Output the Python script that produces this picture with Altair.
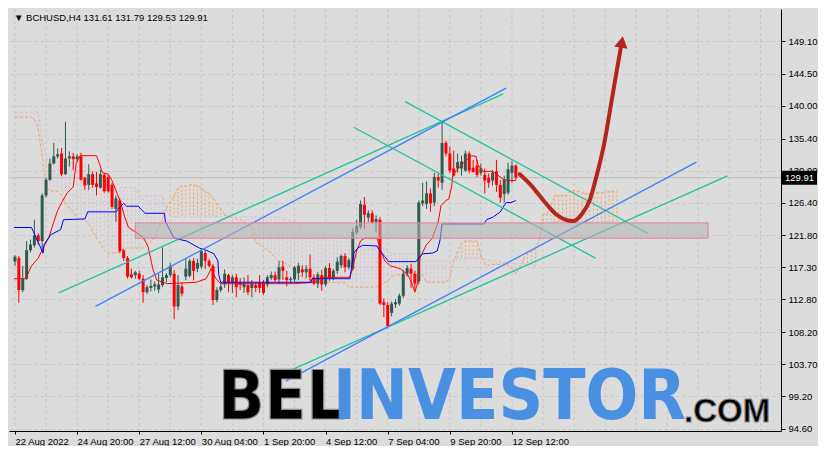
import altair as alt
import pandas as pd

SYMBOL = "BCHUSD,H4"

OPEN = [118.1, 118.6, 114.1, 115.7, 119.7, 120.4, 121.8, 121.0, 127.4, 129.6,
        131.9, 132.9, 133.3, 130.4, 132.6, 132.9, 132.5, 132.9, 129.9, 128.9,
        130.4, 129.1, 128.5, 130.3, 130.0, 128.9, 125.5, 126.7, 119.7, 118.6,
        116.3, 116.2, 116.4, 115.7, 113.8, 114.4, 114.6, 114.2, 114.8, 115.8,
        116.2, 116.4, 111.8, 114.6, 116.0, 116.1, 118.2, 117.1, 117.4, 119.3,
        118.2, 117.5, 112.7, 114.1, 114.9, 116.2, 115.1, 115.9, 115.2, 114.5,
        114.8, 114.4, 114.8, 115.1, 115.1, 114.9, 115.8, 116.2, 115.6, 117.4,
        115.9, 115.5, 115.6, 116.5, 117.0, 116.6, 117.1, 115.9, 115.0, 116.2,
        114.9, 117.2, 115.8, 116.8, 117.6, 118.9, 117.3, 117.1, 122.2, 123.0,
        126.1, 124.3, 124.9, 123.7, 124.0, 112.4, 112.0, 110.9, 112.1, 112.2,
        113.3, 116.4, 117.1, 116.4, 115.3, 126.3, 126.2, 127.7, 126.4, 130.0,
        129.2, 134.8, 133.3, 131.2, 131.2, 131.2, 130.9, 133.3, 131.3, 131.6,
        130.6, 130.3, 129.9, 129.5, 130.8, 128.9, 127.6, 127.8, 130.6, 131.61]
HIGH = [119.0, 118.9, 117.5, 121.0, 121.2, 124.0, 122.1, 127.7, 129.9, 132.6,
        134.8, 134.0, 134.1, 137.8, 133.6, 133.4, 133.2, 133.4, 130.0, 131.8,
        130.8, 130.7, 131.0, 130.6, 130.3, 129.2, 127.4, 127.0, 119.9, 118.9,
        117.1, 116.8, 116.8, 116.2, 114.8, 115.6, 115.3, 116.4, 120.1, 116.5,
        117.9, 116.9, 116.2, 115.2, 118.5, 118.5, 118.6, 118.5, 119.9, 119.7,
        118.5, 117.8, 114.5, 115.2, 117.0, 116.4, 116.2, 116.4, 115.8, 115.9,
        116.2, 115.5, 115.2, 116.2, 115.5, 116.2, 116.7, 116.7, 118.2, 118.2,
        116.8, 116.0, 117.5, 117.9, 117.6, 117.6, 119.1, 116.3, 116.6, 116.9,
        117.5, 117.9, 117.1, 118.7, 119.1, 119.3, 118.6, 122.8, 124.0, 126.7,
        127.2, 125.3, 125.3, 124.6, 124.4, 112.9, 112.4, 112.5, 112.8, 113.6,
        116.9, 117.6, 117.8, 116.8, 126.7, 129.2, 129.4, 128.4, 130.6, 130.5,
        137.7, 135.1, 134.3, 133.7, 133.3, 133.0, 133.7, 133.6, 132.4, 132.4,
        131.9, 131.2, 130.5, 131.0, 132.4, 129.6, 130.2, 132.0, 132.2, 131.79]
LOW = [117.5, 112.3, 113.8, 115.5, 119.4, 120.1, 120.5, 119.6, 127.1, 129.5,
       131.8, 132.6, 130.1, 130.3, 131.5, 131.0, 132.2, 129.5, 128.2, 128.2,
       128.5, 127.4, 128.4, 127.8, 127.8, 125.5, 123.7, 119.3, 118.2, 115.7,
       115.7, 115.7, 115.5, 112.3, 113.5, 113.9, 114.0, 113.7, 114.5, 115.2,
       115.9, 110.0, 111.3, 113.2, 115.5, 115.9, 115.5, 116.6, 117.1, 117.1,
       117.3, 112.0, 112.4, 113.8, 114.4, 113.8, 113.7, 113.1, 114.1, 113.7,
       113.4, 113.1, 113.8, 113.7, 113.4, 114.5, 115.5, 115.3, 115.0, 115.5,
       114.6, 115.2, 115.3, 115.5, 116.0, 115.8, 115.2, 114.8, 114.4, 114.0,
       114.6, 115.4, 115.5, 116.4, 117.2, 116.6, 117.0, 116.8, 121.9, 122.7,
       122.7, 123.7, 123.4, 122.2, 112.0, 110.3, 108.7, 110.4, 111.6, 111.9,
       113.0, 116.0, 114.4, 114.0, 114.9, 125.9, 125.5, 125.1, 125.9, 128.5,
       128.2, 132.9, 130.6, 130.1, 130.6, 130.2, 130.7, 130.5, 130.6, 130.0,
       130.2, 127.7, 128.5, 128.8, 127.9, 126.4, 126.4, 127.5, 129.2, 129.53]
CLOSE = [118.8, 114.1, 115.7, 119.7, 120.5, 121.8, 121.0, 127.4, 129.6, 131.9,
         132.9, 133.2, 130.4, 132.6, 132.9, 132.5, 132.9, 129.6, 128.8, 130.4,
         128.9, 128.6, 130.4, 128.0, 128.0, 125.8, 127.0, 119.6, 118.6, 116.0,
         115.9, 116.6, 115.7, 113.8, 114.5, 114.7, 114.9, 114.9, 115.9, 116.2,
         117.5, 111.8, 114.8, 113.6, 117.1, 118.2, 116.8, 117.9, 119.6, 118.2,
         117.5, 112.7, 114.1, 114.6, 116.4, 115.1, 115.9, 114.5, 114.8, 115.1,
         113.8, 115.1, 114.4, 114.4, 113.7, 115.9, 116.2, 115.5, 117.3, 116.8,
         115.5, 115.7, 117.3, 117.5, 116.6, 117.1, 115.9, 115.0, 116.3, 114.9,
         117.2, 115.8, 116.8, 118.1, 118.9, 117.3, 118.3, 122.3, 123.1, 126.2,
         124.7, 124.9, 123.6, 124.1, 112.2, 112.0, 109.0, 112.2, 112.4, 113.3,
         116.4, 117.2, 116.4, 115.0, 126.4, 126.7, 127.7, 126.3, 130.0, 129.5,
         134.8, 133.3, 130.9, 130.2, 132.1, 132.2, 133.3, 130.9, 130.7, 130.3,
         131.2, 129.5, 129.2, 130.6, 128.9, 127.1, 129.6, 131.1, 131.6, 129.91]

# Ichimoku: Tenkan-sen and Kijun-sen (bar index, price)
TENKAN_BAR = [-0.25, 2.75, 4.25, 6, 7.5, 8.75, 10, 11, 12.25, 13.5, 15, 15.75, 16.75, 21,
              21.75, 22.5, 24, 25, 26, 27.25, 28.25, 29.25, 31.25, 33, 34.25, 35.5, 36.5,
              39.25, 46.75, 49.25, 50.5, 51.75, 53, 71.75, 77.5, 78.75, 86.25, 87, 88, 89,
              90, 93.25, 94, 95.25, 96.75, 99.25, 101.25, 102.25, 103, 103.75, 104.25, 106,
              107.5, 109, 109.75, 111, 111.75, 112.5, 112.75, 113.75, 116, 117.5, 118.75,
              119.25, 120.5, 123, 124.25, 126, 128, 129]
TENKAN_VAL = [115.7, 115.7, 117.5, 118.6, 120.3, 121.5, 123.7, 125.3, 126.6, 127.8, 128.6,
              131.9, 133.0, 133.0, 131.9, 130.6, 130.4, 129.5, 128.1, 126.4, 124.4, 122.9,
              122.2, 121.5, 120.3, 117.1, 115.5, 115.0, 115.2, 115.7, 117.1, 115.7, 115.0,
              115.0, 115.2, 115.9, 115.9, 117.3, 119.6, 121.0, 121.4, 121.4, 120.0, 118.2,
              117.5, 117.1, 116.2, 115.0, 113.8, 115.2, 118.6, 120.5, 121.4, 123.7, 126.0,
              126.7, 126.9, 128.8, 130.2, 131.0, 132.2, 133.0, 132.9, 131.7, 130.8, 130.8,
              130.3, 129.6, 129.5, 129.5]
KIJUN_BAR = [-0.25, 4.25, 7.25, 7.5, 9.25, 11.75, 12.5, 18, 18.75, 26, 27.25, 28, 28.75,
             31.75, 32.75, 33.5, 38.5, 38.75, 39.75, 41, 42.5, 44.25, 47.5, 49.25, 51.25,
             52.25, 52.5, 53, 76.25, 76.5, 86.25, 87.25, 88.25, 89.5, 93.25, 94, 95.25,
             96.25, 103.25, 104, 105, 107.5, 108.75, 109.5, 110, 120.75, 121.5, 123.25,
             125, 125.75, 126.5, 127.75, 129]
KIJUN_VAL = [122.9, 122.9, 119.3, 120.5, 121.9, 122.6, 124.0, 124.1, 125.1, 125.1, 125.9,
             126.3, 125.9, 125.9, 125.3, 124.9, 124.9, 123.7, 122.7, 121.4, 121.2, 121.0,
             120.0, 119.7, 119.2, 118.2, 116.2, 115.2, 115.2, 115.7, 115.7, 119.3, 120.0,
             120.4, 120.3, 119.6, 118.8, 118.1, 118.1, 118.6, 119.2, 119.3, 119.6, 121.2,
             123.4, 123.4, 124.0, 124.4, 125.1, 125.8, 126.4, 126.4, 126.7]

# Senkou span A / B, one value per bar (bars 0..155)
SPAN_A = [138.4, 138.4, 138.4, 138.4, 138.4, 138.1, 136.7, 132.9, 128.5, 128.1,
          128.0, 128.0, 127.4, 126.2, 125.6, 125.1, 124.1, 124.1, 124.0, 123.4,
          122.3, 121.4, 120.7, 119.7, 119.2, 119.3, 119.3, 119.5, 120.0, 120.0,
          120.0, 120.0, 120.0, 120.0, 120.4, 120.8, 121.6, 122.9, 124.1, 125.6,
          126.5, 127.4, 128.5, 128.8, 128.8, 128.9, 128.9, 128.8, 128.4, 128.0,
          127.7, 127.1, 126.3, 125.5, 124.8, 124.4, 124.3, 124.1, 124.0, 123.7,
          123.3, 122.9, 120.8, 120.5, 120.1, 119.7, 119.3, 118.6, 118.2, 118.1,
          117.8, 117.4, 116.7, 116.2, 115.9, 115.6, 115.6, 115.5, 115.3, 115.2,
          115.2, 115.2, 115.2, 115.1, 115.1, 115.1, 114.5, 114.5, 114.5, 114.5,
          114.5, 114.5, 114.5, 114.5, 114.8, 115.1, 115.3, 116.0, 116.2, 116.2,
          116.2, 116.2, 116.2, 116.2, 116.2, 116.2, 115.2, 115.2, 115.2, 115.2,
          115.2, 115.2, 115.7, 118.2, 119.5, 120.7, 121.0, 121.0, 121.0, 121.0,
          119.0, 117.8, 117.5, 117.7, 117.7, 117.7, 117.8, 117.5, 117.3, 116.4,
          117.3, 118.5, 119.3, 119.6, 119.9, 121.0, 124.7, 124.8, 125.9, 127.4,
          127.4, 127.4, 127.4, 128.1, 128.1, 128.0, 127.8, 127.7, 127.6, 127.8,
          127.8, 127.8, 127.8, 128.0, 128.0, 128.0]
SPAN_B = [139.1, 139.1, 139.1, 139.1, 139.1, 139.1, 139.1, 135.1, 132.6, 132.2,
          132.2, 132.1, 132.1, 132.1, 132.1, 132.1, 132.1, 131.9, 131.9, 128.5,
          128.5, 128.5, 128.5, 128.5, 128.5, 128.5, 128.5, 128.5, 128.5, 128.5,
          128.5, 128.5, 127.4, 127.4, 127.4, 127.4, 127.4, 127.4, 127.4, 125.4,
          124.4, 124.4, 124.4, 124.4, 124.4, 124.4, 124.4, 124.4, 124.4, 124.4,
          124.4, 124.4, 124.4, 124.4, 124.4, 124.4, 124.4, 124.4, 124.4, 124.4,
          124.4, 124.4, 124.4, 124.4, 124.4, 124.4, 124.4, 124.4, 124.4, 124.0,
          124.0, 123.8, 123.8, 123.7, 122.3, 122.1, 122.1, 121.9, 121.9, 121.9,
          121.9, 121.8, 121.8, 121.8, 121.6, 121.6, 120.8, 120.5, 120.3, 120.1,
          120.0, 120.0, 120.0, 120.0, 120.0, 120.0, 119.9, 119.2, 119.2, 119.2,
          119.2, 119.2, 119.2, 119.2, 119.2, 118.2, 118.2, 118.2, 118.2, 118.2,
          118.2, 118.2, 118.2, 118.4, 118.4, 118.5, 118.5, 118.6, 118.6, 118.5,
          118.5, 118.4, 118.4, 118.2, 118.2, 118.1, 118.1, 117.9, 117.8, 117.8,
          117.8, 117.7, 117.7, 117.7, 117.5, 121.0, 123.7, 123.7, 123.7, 123.7,
          123.7, 123.7, 123.7, 123.7, 123.7, 123.7, 123.7, 123.7, 123.7, 123.7,
          123.7, 123.7, 123.7, 123.7, 123.7, 123.7]

# Drawn objects (bar index, price)
GREEN_BAR0 = [11.25, 100.5, 87.25, 70.5]
GREEN_P0 = [113.7, 140.6, 137.0, 102.7]
GREEN_BAR1 = [125.75, 163.0, 149.5, 183.5]
GREEN_P1 = [141.7, 122.05, 118.6, 130.15]
BLUE_BAR0 = [20.75, 69.75]
BLUE_P0 = [111.8, 101.3]
BLUE_BAR1 = [126.5, 175.5]
BLUE_P1 = [142.5, 132.1]
ZONE_BAR = [31.0, 178.5]
ZONE_PRICE = [121.4, 123.55]
CURVE_BAR = [130, 133, 136.25, 139.25, 141.75, 143.75, 146, 148, 150, 151.75, 153.5, 155, 156]
CURVE_PRICE = [130.4, 128.8, 126.6, 124.8, 124.0, 123.8, 124.8, 126.7, 130.6, 134.7, 140.2, 145.0, 148.1]
ARROW_BAR = [156.3]
ARROW_PRICE = [149.0]

GRID_BARS = [0, 8, 16, 24, 32, 40, 48, 56, 64, 72, 80, 88, 96, 104, 112, 120, 128,
             136, 144, 152, 160, 168, 176, 184, 192]
XTICK_BARS = [0, 16, 32, 48, 64, 80, 96, 112, 128]
XTICK_LABELS = ["22 Aug 2022", "24 Aug 20:00", "27 Aug 12:00", "30 Aug 04:00", "1 Sep 20:00",
                "4 Sep 12:00", "7 Sep 04:00", "9 Sep 20:00", "12 Sep 12:00"]
YTICKS = [94.6, 99.2, 103.7, 108.2, 112.8, 117.3, 121.8, 126.4, 130.9, 135.4, 140.0, 144.5, 149.1]

WATERMARK = ["BEL", "INVESTOR", ".COM"]

# ---------------------------------------------------------------- styling
FONT = "Liberation Sans"
NARROW = "Liberation Sans Narrow, DejaVu Sans Condensed, sans-serif"
BG = "#dcdcdc"
BULL = "#2f5a4e"
BEAR = "#ff0000"
ORANGE = "#f4a460"
THISTLE = "#d8bfd8"
W, H = 772, 422

xs = alt.Scale(domain=[-0.25, 196], nice=False, zero=False)
ys = alt.Scale(domain=[94.28, 153.63], nice=False, zero=False)
label_expr = "[" + ",".join("'%s'" % s for s in XTICK_LABELS) + "][round(datum.value / 16)]"
xaxis = alt.Axis(values=XTICK_BARS, labelExpr=label_expr, labelAlign="left", labelPadding=2,
                 tickSize=3, tickColor="black", domainColor="black", labelColor="black",
                 labelFont=FONT, labelFontSize=9.5, grid=False, title=None,
                 labelOverlap=False, labelFlush=False, labelBound=False)
yaxis = alt.Axis(orient="right", values=YTICKS, format=".2f", tickSize=4, labelPadding=3,
                 tickColor="black", domainColor="black", labelColor="black", labelFont=FONT,
                 labelFontSize=9.5, grid=True, gridColor="#c5c5c5", gridDash=[3, 3],
                 title=None, labelOverlap=False)


def X(f):
    return alt.X(f, type="quantitative", scale=xs, axis=xaxis)


def Y(f):
    return alt.Y(f, type="quantitative", scale=ys, axis=yaxis)


candles = pd.DataFrame({"bar": list(range(len(CLOSE))), "o": OPEN, "h": HIGH, "l": LOW, "c": CLOSE})
cloud = pd.DataFrame({"bar": list(range(len(SPAN_A))), "a": SPAN_A, "b": SPAN_B})
tenkan = pd.DataFrame({"bar": TENKAN_BAR, "v": TENKAN_VAL})
kijun = pd.DataFrame({"bar": KIJUN_BAR, "v": KIJUN_VAL})
greens = pd.DataFrame({"x0": GREEN_BAR0, "y0": GREEN_P0, "x1": GREEN_BAR1, "y1": GREEN_P1})
blues = pd.DataFrame({"x0": BLUE_BAR0, "y0": BLUE_P0, "x1": BLUE_BAR1, "y1": BLUE_P1})
zone = pd.DataFrame({"x0": [ZONE_BAR[0]], "x1": [ZONE_BAR[1]], "y0": [ZONE_PRICE[0]], "y1": [ZONE_PRICE[1]]})
curve = pd.DataFrame({"bar": CURVE_BAR, "p": CURVE_PRICE})
arrow = pd.DataFrame({"bar": ARROW_BAR, "p": ARROW_PRICE})
grid = pd.DataFrame({"bar": GRID_BARS})
last = pd.DataFrame({"p": [CLOSE[-1]], "t": ["%.2f" % CLOSE[-1]]})
header = pd.DataFrame({"t": ["\u25bc " + SYMBOL + "  " + " ".join(
    "%.2f" % v for v in [OPEN[-1], HIGH[-1], LOW[-1], CLOSE[-1]])]})

up = "datum.c >= datum.o"

vgrid = alt.Chart(grid).mark_rule(color="#c5c5c5", strokeDash=[3, 3], strokeWidth=1).encode(x=X("bar"))
price_line = alt.Chart(last).mark_rule(color="#bdbdbd", strokeWidth=1).encode(y=Y("p"))
hatch = alt.Chart(cloud).mark_rule(strokeDash=[2, 2], strokeWidth=1).encode(
    x=X("bar"), y=Y("a"), y2="b",
    color=alt.condition("datum.a > datum.b", alt.value(ORANGE), alt.value(THISTLE)))
span_a = alt.Chart(cloud).mark_line(color=ORANGE, strokeDash=[3, 2], strokeWidth=1).encode(x=X("bar"), y=Y("a"))
span_b = alt.Chart(cloud).mark_line(color=THISTLE, strokeDash=[3, 2], strokeWidth=1).encode(x=X("bar"), y=Y("b"))
wicks = alt.Chart(candles).mark_rule(strokeWidth=1).encode(
    x=X("bar"), y=Y("l"), y2="h", color=alt.condition(up, alt.value(BULL), alt.value(BEAR)))
bodies = alt.Chart(candles).mark_bar(size=3).encode(
    x=X("bar"), y=Y("o"), y2="c", color=alt.condition(up, alt.value(BULL), alt.value(BEAR)))
tenkan_l = alt.Chart(tenkan).mark_line(color="#ff0000", strokeWidth=1).encode(x=X("bar"), y=Y("v"))
kijun_l = alt.Chart(kijun).mark_line(color="#0000ff", strokeWidth=1).encode(x=X("bar"), y=Y("v"))
green_l = alt.Chart(greens).mark_rule(color="#20c4a0", strokeWidth=1.3).encode(
    x=X("x0"), y=Y("y0"), x2="x1", y2="y1")
blue_l = alt.Chart(blues).mark_rule(color="#3d80ff", strokeWidth=1.3).encode(
    x=X("x0"), y=Y("y0"), x2="x1", y2="y1")
zone_r = alt.Chart(zone).mark_rect(fill="#b4b4b4", fillOpacity=0.55, stroke="#e0809c",
                                   strokeWidth=1).encode(x=X("x0"), x2="x1", y=Y("y0"), y2="y1")
curve_l = alt.Chart(curve).mark_line(color="#b3261e", strokeWidth=4, interpolate="monotone",
                                     strokeCap="round").encode(x=X("bar"), y=Y("p"))
arrow_p = alt.Chart(arrow).mark_point(shape="triangle-up", filled=True, size=180, angle=10,
                                      color="#b3261e", opacity=1).encode(x=X("bar"), y=Y("p"))


def wm(text, x, y, size, font, fill, stroke=None, sw=0, weight="bold"):
    kw = dict(align="left", baseline="bottom", font=font, fontSize=size, fontWeight=weight, fill=fill)
    if stroke is not None:
        kw.update(stroke=stroke, strokeWidth=sw, strokeJoin="round")
    return alt.Chart(pd.DataFrame({"t": [text]})).mark_text(**kw).encode(
        x=alt.value(x), y=alt.value(y), text="t:N")


wm_layers = [
    wm(WATERMARK[0], 209, 424, 68, NARROW, "black", "#8a8a8a", 1.2),
    wm(WATERMARK[1], 324, 424, 69, NARROW, "#4a90e2"),
    wm(WATERMARK[2], 675, 420, 33, FONT, "black", "#8a8a8a", 1),
]

head = alt.Chart(header).mark_text(align="left", baseline="middle", font=FONT, fontSize=9.5,
                                   color="black").encode(x=alt.value(5), y=alt.value(9), text="t:N")
box = alt.Chart(last).mark_point(shape="M-1,-0.4L1,-0.4L1,0.4L-1,0.4Z", size=1225, filled=True,
                                 color="black", opacity=1).encode(x=alt.value(790.5), y=Y("p"))
box_t = alt.Chart(last).mark_text(align="center", baseline="middle", font=FONT, fontSize=9.5,
                                  color="white").encode(x=alt.value(790.5), y=Y("p"), text="t:N")

chart = alt.layer(
    vgrid, price_line, hatch, span_a, span_b, wicks, bodies, tenkan_l, kijun_l,
    green_l, blue_l, zone_r, curve_l, arrow_p, *wm_layers, head, box, box_t
).properties(
    width=W, height=H, padding=0, background=BG
).configure_view(
    stroke="black", strokeWidth=1
).configure(font=FONT)

chart.save("out.html", embed_options={"renderer": "svg", "actions": False})
